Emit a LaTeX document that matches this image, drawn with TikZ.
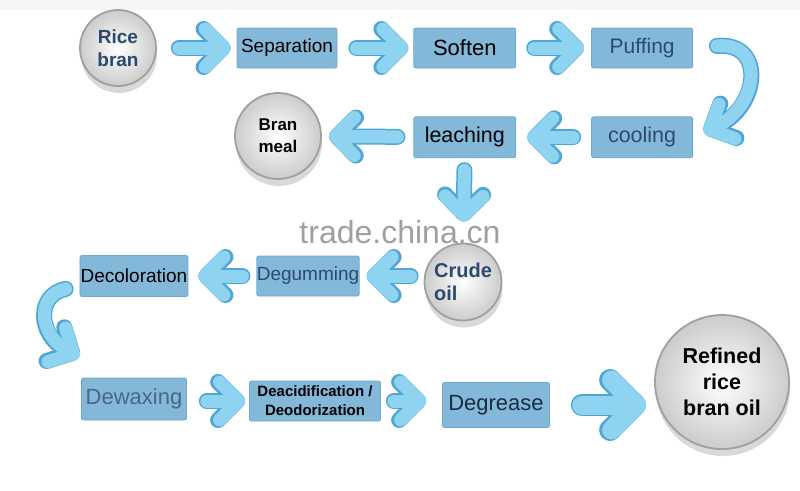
\documentclass[tikz,border=0pt]{standalone}
\usepackage{fontspec}
\setmainfont{Liberation Sans}
\usetikzlibrary{positioning,arrows.meta,shadows}

\definecolor{boxblue}{HTML}{83B8D8}
\definecolor{boxedge}{HTML}{6FA8CC}
\definecolor{flowfill}{HTML}{8ED4F1}
\definecolor{flowedge}{HTML}{4EA6D4}
\definecolor{navytext}{HTML}{2B4A6E}
\definecolor{balledge}{HTML}{A0A0A0}

\begin{document}
\begin{tikzpicture}[
  x=1pt, y=-1pt,
  box/.style={draw=boxedge,line width=0.8pt,fill=boxblue,rounded corners=2pt,inner sep=0pt,
    minimum width=100pt,minimum height=40pt,font=\fontsize{21}{25}\selectfont,text=black},
  ball/.style={circle,draw=balledge,line width=1.8pt,inner color=white,outer color=gray!40,
    align=center,inner sep=0pt,font=\bfseries\fontsize{19}{23}\selectfont,
    drop shadow={shadow xshift=1pt,shadow yshift=-7pt,opacity=0.3,fill=gray}},
  flow/.style={draw=flowfill,line width=13pt,line cap=round,
    -{Straight Barb[round,length=19pt,width=38pt]},
    preaction={draw=flowedge,line width=16pt,line cap=round,
      -{Straight Barb[round,length=19pt,width=38pt]}}},
  flowbig/.style={draw=flowfill,line width=19pt,line cap=round,
    -{Straight Barb[round,length=25pt,width=50pt]},
    preaction={draw=flowedge,line width=22pt,line cap=round,
      -{Straight Barb[round,length=25pt,width=50pt]}}},
]
\useasboundingbox (0,0) rectangle (800,490);
\fill[gray!7] (0,0) rectangle (800,10);

% first row
\node[ball,minimum size=76pt,text=navytext] (rice) at (118,48) {Rice\\bran};
\node[box,font=\fontsize{19}{23}\selectfont] (sep) at (287,48) {Separation};
\node[box,minimum width=102pt,font=\fontsize{22}{26}\selectfont,right=76pt of sep] (soft) {Soften};
\node[box,minimum width=101pt,text=navytext,right=75pt of soft] (puff) {Puffing};

% second row
\node[box,minimum width=101pt,minimum height=41pt,text=navytext,font=\fontsize{21.5}{25}\selectfont,below=48pt of puff] (cool) {cooling};
\node[box,minimum width=102pt,minimum height=41pt,font=\fontsize{21.5}{25}\selectfont,left=75pt of cool] (leach) {leaching};
\node[ball,minimum size=86pt,font=\bfseries\fontsize{17}{22}\selectfont] (bran) at (278,136) {Bran\\meal};

% watermark
\node[text=gray!75,font=\fontsize{32}{36}\selectfont] (mark) at (400,232) {trade.china.cn};

% third row
\node[ball,minimum size=77pt,text=navytext,align=left,font=\bfseries\fontsize{20}{23}\selectfont] (crude) at (463,282) {Crude\\oil};
\node[box,text=navytext,font=\fontsize{19}{23}\selectfont] (degum) at (308,276) {Degumming};
\node[box,minimum width=108pt,minimum height=41pt,font=\fontsize{19}{23}\selectfont,left=68pt of degum] (decol) {Decoloration};

% last row
\node[box,minimum width=105pt,minimum height=42pt,text=navytext!85,font=\fontsize{22}{26}\selectfont] (dewax) at (134,399) {Dewaxing};
\node[box,minimum width=131pt,align=center,font=\bfseries\fontsize{15}{19}\selectfont] (deacid) at (315,401) {Deacidification /\\Deodorization};
\node[box,minimum width=107pt,minimum height=45pt,text=navytext!60!black,font=\fontsize{22}{26}\selectfont] (degr) at (496,405) {Degrease};
\node[ball,minimum size=134pt,font=\bfseries\fontsize{21.5}{26}\selectfont] (oil) at (722,382) {Refined\\rice\\bran oil};

% connectors
\draw[flow,shorten <=22pt,shorten >=6pt] (rice) -- (sep);
\draw[flow,shorten <=19pt,shorten >=5pt] (sep) -- (soft);
\draw[flow,shorten <=18pt,shorten >=7pt] (soft) -- (puff);
\draw[flow,shorten <=24pt,shorten >=12pt] (puff.east) to[out=5,in=25,looseness=2.1] (cool.east);
\draw[flow,shorten <=18pt,shorten >=11pt] (cool) -- (leach);
\draw[flow,shorten <=16pt,shorten >=7pt] (leach) -- (bran);
\draw[flow,shorten <=12pt,shorten >=21pt] (leach) -- (crude);
\draw[flow,shorten <=13pt,shorten >=7pt] (crude.west |- degum) -- (degum);
\draw[flow,shorten <=14pt,shorten >=10pt] (degum) -- (decol);
\draw[flow,shorten >=2pt] ([xshift=-14pt,yshift=8pt]decol.south west) .. controls (36,295) and (38,335) .. ([yshift=20pt]dewax.north west);
\draw[flow,shorten <=20pt,shorten >=4pt] (dewax.east |- deacid) -- (deacid);
\draw[flow,shorten <=13pt,shorten >=16pt] (deacid) -- (degr.west |- deacid);
\draw[flowbig,shorten <=32pt,shorten >=8pt] (degr) -- (oil.west |- degr);
\end{tikzpicture}
\end{document}
